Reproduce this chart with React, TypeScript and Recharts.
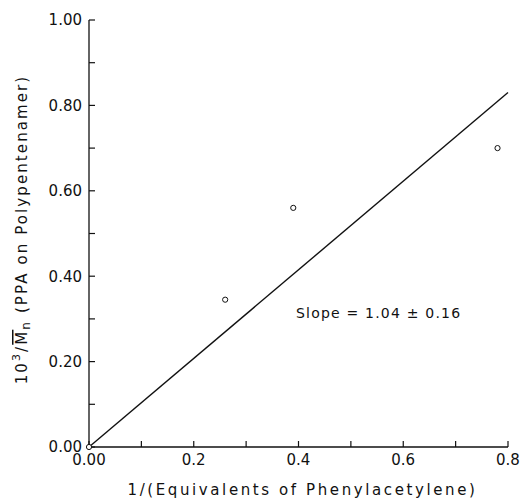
import { ReferenceDot, ReferenceLine, Scatter, ScatterChart, XAxis, YAxis } from 'recharts';

// measured points (1/equiv PhC≡CH vs 10^3/Mn)
const equivInv = [0, 0.26, 0.39, 0.78];
const invMn = [0, 0.345, 0.56, 0.7];

// least squares line as drawn
const fitX = [0, 0.8];
const fitY = [0, 0.83];

const xTicks = [0, 0.1, 0.2, 0.3, 0.4, 0.5, 0.6, 0.7, 0.8];
const xTickLabels = ['0.00', '', '0.2', '', '0.4', '', '0.6', '', '0.8'];
const yTicks = [0, 0.1, 0.2, 0.3, 0.4, 0.5, 0.6, 0.7, 0.8, 0.9, 1.0];
const yTickLabels = ['0.00', '', '0.20', '', '0.40', '', '0.60', '', '0.80', '', '1.00'];

const xTitle = '1/(Equivalents of Phenylacetylene)';
const slopeText = 'Slope = 1.04 \u00b1 0.16';
const slopeAt = { x: 0.553, y: 0.314 };

const FONT = '"DejaVu Sans", sans-serif';
const INK = '#111';

const points = equivInv.map((x, i) => ({ x, y: invMn[i] }));

function OpenCircle(props: any) {
  return <circle cx={props.cx} cy={props.cy} r={2.6} fill="#fff" stroke={INK} strokeWidth={1} />;
}

function YTitle(props: any) {
  const vb = props.viewBox;
  const cx = vb.x + 22;
  const cy = vb.y + vb.height / 2 - 4;
  return (
    <text
      x={cx}
      y={cy}
      transform={`rotate(-90, ${cx}, ${cy})`}
      textAnchor="middle"
      dominantBaseline="central"
      fontFamily={FONT}
      fontSize={15}
      letterSpacing={2.1}
      fill={INK}
    >
      <tspan>10</tspan>
      <tspan dy={-6} fontSize={11}>3</tspan>
      <tspan dy={6}>/</tspan>
      <tspan style={{ textDecoration: 'overline' }}>M</tspan>
      <tspan dy={4} fontSize={12}>n</tspan>
      <tspan dy={-4}> (PPA on Polypentenamer)</tspan>
    </text>
  );
}

function XTitle(props: any) {
  const vb = props.viewBox;
  return (
    <text
      x={vb.x + vb.width / 2 + 4}
      y={vb.y + 43}
      textAnchor="middle"
      dominantBaseline="central"
      fontFamily={FONT}
      fontSize={15}
      letterSpacing={2.6}
      fill={INK}
    >
      {xTitle}
    </text>
  );
}

export default function App() {
  return (
    <div style={{ position: 'absolute', left: 0, top: 0, background: '#fff', fontFamily: FONT }}>
      <ScatterChart width={521} height={500} margin={{ top: 20, right: 13, bottom: 0, left: 0 }}>
        <XAxis
          type="number"
          dataKey="x"
          domain={[0, 0.8]}
          ticks={xTicks}
          interval={0}
          tickFormatter={(v: number) => xTickLabels[xTicks.findIndex((t) => Math.abs(t - v) < 1e-9)] ?? ''}
          height={53}
          tickSize={-6}
          tickMargin={13}
          axisLine={{ stroke: INK, strokeWidth: 1.3 }}
          tickLine={{ stroke: INK, strokeWidth: 1.2 }}
          tick={{ fill: INK, fontSize: 15, fontFamily: FONT }}
          label={XTitle}
        />
        <YAxis
          type="number"
          dataKey="y"
          domain={[0, 1]}
          ticks={yTicks}
          interval={0}
          tickFormatter={(v: number) => yTickLabels[yTicks.findIndex((t) => Math.abs(t - v) < 1e-9)] ?? ''}
          width={89}
          tickSize={-6}
          tickMargin={13}
          axisLine={{ stroke: INK, strokeWidth: 1.3 }}
          tickLine={{ stroke: INK, strokeWidth: 1.2 }}
          tick={{ fill: INK, fontSize: 15, fontFamily: FONT }}
          label={YTitle}
        />
        <ReferenceLine
          segment={[
            { x: fitX[0], y: fitY[0] },
            { x: fitX[1], y: fitY[1] },
          ]}
          stroke={INK}
          strokeWidth={1.4}
          ifOverflow="visible"
        />
        <ReferenceDot
          x={slopeAt.x}
          y={slopeAt.y}
          r={0}
          fill="none"
          stroke="none"
          label={{ value: slopeText, position: 'center', fill: INK, fontSize: 14, fontFamily: FONT, letterSpacing: 1.2 }}
        />
        <Scatter data={points} shape={OpenCircle} isAnimationActive={false} />
      </ScatterChart>
    </div>
  );
}
